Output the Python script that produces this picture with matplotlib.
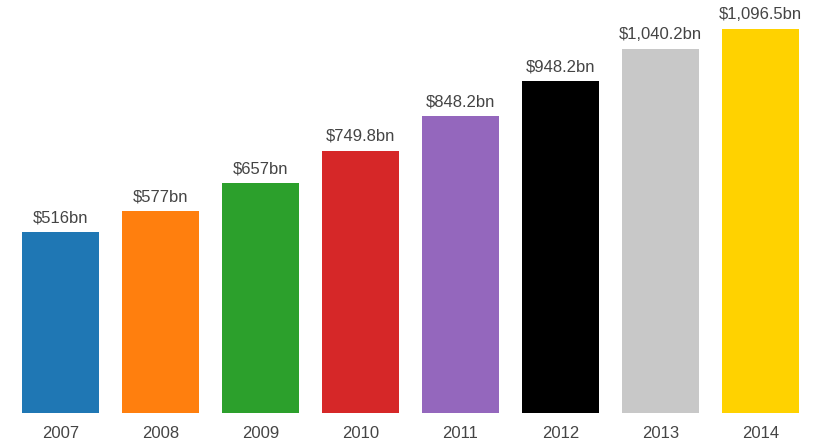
import matplotlib.pyplot as plt

years = ["2007", "2008", "2009", "2010", "2011", "2012", "2013", "2014"]
values = [516, 577, 657, 749.8, 848.2, 948.2, 1040.2, 1096.5]
labels = ["$516bn", "$577bn", "$657bn", "$749.8bn", "$848.2bn",
          "$948.2bn", "$1,040.2bn", "$1,096.5bn"]
colors = ["#1f77b4", "#ff7f0e", "#2ca02c", "#d62728", "#9467bd",
          "#000000", "#c8c8c8", "#ffd200"]

plt.rcParams["font.family"] = ["Liberation Sans", "DejaVu Sans"]

fig = plt.figure(figsize=(8.17, 4.48), dpi=100)
ax = fig.add_axes([10.5 / 817, 35 / 448, 800 / 817, 413 / 448])

x = range(len(years))
bars = ax.bar(x, values, width=0.77, color=colors)

# value labels above each bar
for rect, lab in zip(bars, labels):
    ax.annotate(lab, (rect.get_x() + rect.get_width() / 2, rect.get_height()),
                xytext=(0, 5), textcoords="offset points",
                ha="center", va="bottom", fontsize=12, color="#444444")

ax.set_xlim(-0.5, 7.5)
ax.set_ylim(0, 1180)
ax.set_xticks(list(x))
ax.set_xticklabels(years, fontsize=12, color="#444444")
ax.tick_params(axis="x", length=0, pad=9)
ax.set_yticks([])
for side in ax.spines.values():
    side.set_visible(False)

fig.savefig("out.png", dpi=100)
